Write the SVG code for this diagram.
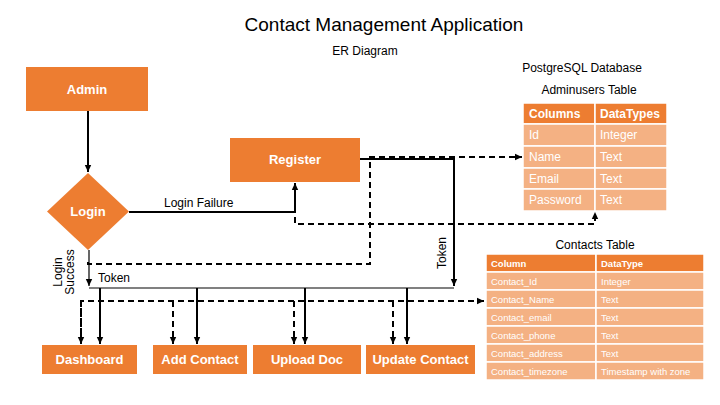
<svg xmlns="http://www.w3.org/2000/svg" width="720" height="405" viewBox="0 0 720 405">
<defs>
<marker id="ah" markerWidth="8" markerHeight="8" refX="7" refY="4" orient="auto" markerUnits="userSpaceOnUse">
<path d="M0,0.8 L7,4 L0,7.2 Z" fill="#000"/>
</marker>
<style>
.node{fill:#ED7D31}
.nl{font-family:"Liberation Sans",Arial,sans-serif;font-size:13px;fill:#fff;text-anchor:middle;font-weight:bold}
.t{font-family:"Liberation Sans",Arial,sans-serif;fill:#000}
.ln{fill:none;stroke:#000;stroke-width:2}
.dl{fill:none;stroke:#000;stroke-width:2;stroke-dasharray:6,4}
.hd{fill:#ED7D31;stroke:#fff;stroke-width:1.5}
.rw{fill:#F4B183;stroke:#fff;stroke-width:1.5}
.th{font-family:"Liberation Sans",Arial,sans-serif;fill:#fff;font-weight:bold}
.tc{font-family:"Liberation Sans",Arial,sans-serif;fill:#fff}
</style>
</defs>
<rect width="720" height="405" fill="#fff"/>
<text class="t" x="384" y="31" font-size="19" text-anchor="middle">Contact Management Application</text>
<text class="t" x="365" y="55" font-size="12" text-anchor="middle">ER Diagram</text>
<text class="t" x="582" y="72" font-size="12" text-anchor="middle">PostgreSQL Database</text>
<text class="t" x="589" y="94" font-size="12" text-anchor="middle">Adminusers Table</text>
<text class="t" x="595" y="249" font-size="12" text-anchor="middle">Contacts Table</text>

<g id="connectors">
<path class="ln" d="M88,111 V172" marker-end="url(#ah)"/>
<path class="ln" d="M129,212 H295 V183" marker-end="url(#ah)"/>
<path class="dl" d="M295,217 V224 H595 V212" marker-end="url(#ah)"/>
<path class="ln" d="M360,159 H454 V286" marker-end="url(#ah)"/>
<path class="dl" d="M88,262 V264 H370 V157 H522" marker-end="url(#ah)"/>
<path fill="none" stroke="#000" stroke-width="1.2" d="M89,250 V286" marker-end="url(#ah)"/>
<path fill="none" stroke="#808080" stroke-width="2" d="M89,288 H454"/>
<path class="ln" d="M100,288 V344" marker-end="url(#ah)"/>
<path class="ln" d="M197,288 V344" marker-end="url(#ah)"/>
<path class="ln" d="M305,288 V344" marker-end="url(#ah)"/>
<path class="ln" d="M407,288 V344" marker-end="url(#ah)"/>
<path class="dl" d="M81,344 V301 H484" marker-end="url(#ah)"/>
<path class="dl" d="M81,301 V344" marker-end="url(#ah)"/>
<path class="dl" d="M173,301 V344" marker-end="url(#ah)"/>
<path class="dl" d="M294,301 V344" marker-end="url(#ah)"/>
<path class="dl" d="M393,301 V344" marker-end="url(#ah)"/>
<text class="t" x="164" y="207" font-size="12">Login Failure</text>
<text class="t" x="98" y="282" font-size="12">Token</text>
<text class="t" font-size="12" text-anchor="middle" transform="translate(446,253) rotate(-90)">Token</text>
<text class="t" font-size="12" text-anchor="middle" transform="translate(62,272) rotate(-90)">Login</text>
<text class="t" font-size="12" text-anchor="middle" transform="translate(74,272) rotate(-90)">Success</text>
</g>

<g id="admin"><rect class="node" x="26" y="67" width="122" height="44"/><text class="nl" x="87" y="94">Admin</text></g>
<g id="login"><path class="node" d="M88,173 L129,211.5 L88,250 L47,211.5 Z"/><text class="nl" x="88" y="216">Login</text></g>
<g id="register"><rect class="node" x="230" y="138" width="130" height="44"/><text class="nl" x="295" y="164">Register</text></g>
<g id="dashboard"><rect class="node" x="42" y="345" width="95" height="29"/><text class="nl" x="89.5" y="364">Dashboard</text></g>
<g id="add-contact"><rect class="node" x="153" y="345" width="94" height="29"/><text class="nl" x="200" y="364">Add Contact</text></g>
<g id="upload-doc"><rect class="node" x="253" y="345" width="108" height="29"/><text class="nl" x="307" y="364">Upload Doc</text></g>
<g id="update-contact"><rect class="node" x="366" y="345" width="109" height="29"/><text class="nl" x="420.5" y="364">Update Contact</text></g>

<g id="adminusers-table">
<rect class="hd" x="523" y="103" width="72" height="21"/><rect class="hd" x="595" y="103" width="72" height="21"/>
<rect class="rw" x="523" y="124" width="72" height="22"/><rect class="rw" x="595" y="124" width="72" height="22"/>
<rect class="rw" x="523" y="146" width="72" height="22"/><rect class="rw" x="595" y="146" width="72" height="22"/>
<rect class="rw" x="523" y="168" width="72" height="21"/><rect class="rw" x="595" y="168" width="72" height="21"/>
<rect class="rw" x="523" y="189" width="72" height="22"/><rect class="rw" x="595" y="189" width="72" height="22"/>
<text class="th" x="529" y="118" font-size="12">Columns</text><text class="th" x="600" y="118" font-size="12">DataTypes</text>
<text class="tc" x="529" y="139" font-size="12">Id</text><text class="tc" x="600" y="139" font-size="12">Integer</text>
<text class="tc" x="529" y="161" font-size="12">Name</text><text class="tc" x="600" y="161" font-size="12">Text</text>
<text class="tc" x="529" y="183" font-size="12">Email</text><text class="tc" x="600" y="183" font-size="12">Text</text>
<text class="tc" x="529" y="204" font-size="12">Password</text><text class="tc" x="600" y="204" font-size="12">Text</text>
</g>

<g id="contacts-table">
<rect class="hd" x="486" y="254" width="110" height="18"/><rect class="hd" x="596" y="254" width="108" height="18"/>
<rect class="rw" x="486" y="272" width="110" height="18"/><rect class="rw" x="596" y="272" width="108" height="18"/>
<rect class="rw" x="486" y="290" width="110" height="18"/><rect class="rw" x="596" y="290" width="108" height="18"/>
<rect class="rw" x="486" y="308" width="110" height="18"/><rect class="rw" x="596" y="308" width="108" height="18"/>
<rect class="rw" x="486" y="326" width="110" height="18"/><rect class="rw" x="596" y="326" width="108" height="18"/>
<rect class="rw" x="486" y="344" width="110" height="18"/><rect class="rw" x="596" y="344" width="108" height="18"/>
<rect class="rw" x="486" y="362" width="110" height="18"/><rect class="rw" x="596" y="362" width="108" height="18"/>
<text class="th" x="491" y="267" font-size="9.5">Column</text><text class="th" x="601" y="267" font-size="9.5">DataType</text>
<text class="tc" x="491" y="285" font-size="9.5">Contact_Id</text><text class="tc" x="601" y="285" font-size="9.5">Integer</text>
<text class="tc" x="491" y="303" font-size="9.5">Contact_Name</text><text class="tc" x="601" y="303" font-size="9.5">Text</text>
<text class="tc" x="491" y="321" font-size="9.5">Contact_email</text><text class="tc" x="601" y="321" font-size="9.5">Text</text>
<text class="tc" x="491" y="339" font-size="9.5">Contact_phone</text><text class="tc" x="601" y="339" font-size="9.5">Text</text>
<text class="tc" x="491" y="357" font-size="9.5">Contact_address</text><text class="tc" x="601" y="357" font-size="9.5">Text</text>
<text class="tc" x="491" y="375" font-size="9.5">Contact_timezone</text><text class="tc" x="601" y="375" font-size="9.5">Timestamp with  zone</text>
</g>
</svg>
